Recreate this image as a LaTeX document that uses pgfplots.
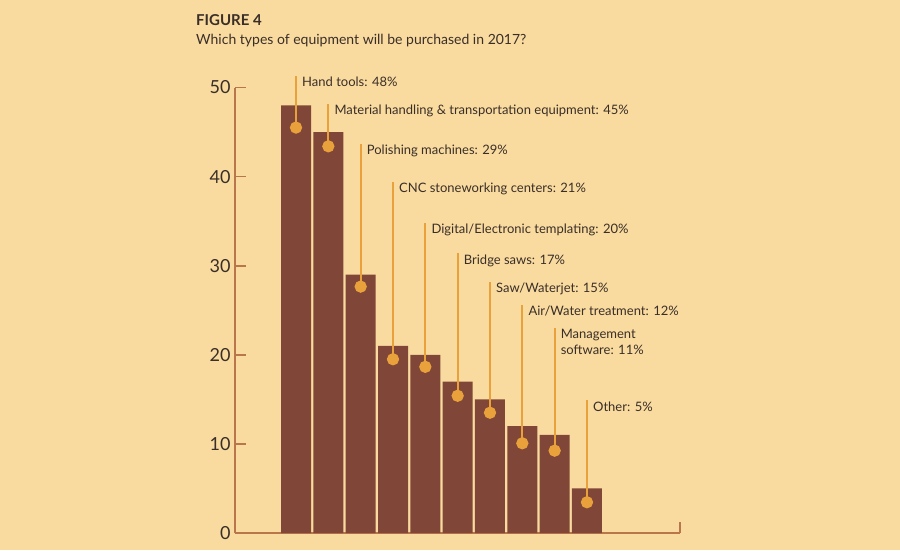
\documentclass[border=0pt]{standalone}
\usepackage{pgfplots}
\pgfplotsset{compat=1.18}
\usepackage{pgfplotstable}
\usepackage{fontspec}
\setmainfont{Lato}

\definecolor{bgcol}{RGB}{249,219,159}
\definecolor{barcol}{RGB}{128,70,55}
\definecolor{leadcol}{RGB}{233,162,59}
\definecolor{axiscol}{RGB}{184,118,74}
\definecolor{txtcol}{RGB}{58,46,40}

% share of respondents per equipment type (percent)
\pgfplotstableread{
idx share
0 48
1 45
2 29
3 21
4 20
5 17
6 15
7 12
8 11
9 5
}\sharedata

% leader lines: dot position (lo) and top of the line (hi)
\pgfplotstableread{
idx lo hi len
0 45.5 51.3 5.8
1 43.4 48.2 4.8
2 27.65 43.7 16.05
3 19.5 39.4 19.9
4 18.65 34.8 16.15
5 15.4 31.4 16.0
6 13.5 28.2 14.7
7 10.07 25.6 15.53
8 9.24 23.0 13.76
9 3.45 14.9 11.45
}\leaddata

\begin{document}
\begin{tikzpicture}[x=1pt,y=1pt]
\fill[bgcol] (0,0) rectangle (900,550);
\useasboundingbox (0,0) rectangle (900,550);

\node[anchor=base west, inner sep=0, font=\bfseries\fontsize{15}{18}\selectfont, text=txtcol] at (196,524) {FIGURE 4};
\node[anchor=base west, inner sep=0, font=\fontsize{14}{17}\selectfont, text=txtcol] at (196,505) {Which types of equipment will be purchased in 2017?};

\begin{axis}[
  at={(235pt,17pt)}, anchor=south west,
  scale only axis, width=445pt, height=445.5pt,
  xmin=-1.887, xmax=11.877, ymin=0, ymax=50,
  axis x line=bottom, axis y line=left,
  axis line style={-, draw=axiscol, line width=1.6pt},
  xtick=\empty,
  ytick={0,10,20,30,40,50},
  tick align=inside,
  major tick length=11pt,
  every tick/.style={draw=axiscol, line width=1.6pt},
  /pgf/number format/assume math mode=true,
  yticklabel style={font=\fontsize{18}{20}\selectfont, text=txtcol, xshift=-1pt},
  clip=false,
]
\addplot[ybar, bar width=30pt, fill=barcol, draw=none] table[x=idx, y=share] {\sharedata};

\addplot[leadcol, line width=2.2pt, only marks, mark=*, mark size=5pt,
  mark options={draw=none, fill=leadcol},
  error bars/.cd, y dir=plus, y explicit,
  error bar style={leadcol, line width=2.2pt}, error mark=none]
  table[x=idx, y=lo, y error=len] {\leaddata};

\draw[axiscol, line width=1.6pt] (axis cs:11.877,0) -- (axis cs:11.877,1.2);

\begin{scope}[every node/.style={anchor=north west, inner sep=0, xshift=6pt, yshift=-1pt, text=txtcol, font=\fontsize{13}{16}\selectfont}]
\node at (axis cs:0,51.3) {Hand tools: 48\%};
\node at (axis cs:1,48.2) {Material handling \& transportation equipment: 45\%};
\node at (axis cs:2,43.7) {Polishing machines: 29\%};
\node at (axis cs:3,39.4) {CNC stoneworking centers: 21\%};
\node at (axis cs:4,34.8) {Digital/Electronic templating: 20\%};
\node at (axis cs:5,31.4) {Bridge saws: 17\%};
\node at (axis cs:6,28.2) {Saw/Waterjet: 15\%};
\node at (axis cs:7,25.6) {Air/Water treatment: 12\%};
\node[align=left] at (axis cs:8,23.0) {Management\\software: 11\%};
\node at (axis cs:9,14.9) {Other: 5\%};
\end{scope}
\end{axis}
\end{tikzpicture}
\end{document}
